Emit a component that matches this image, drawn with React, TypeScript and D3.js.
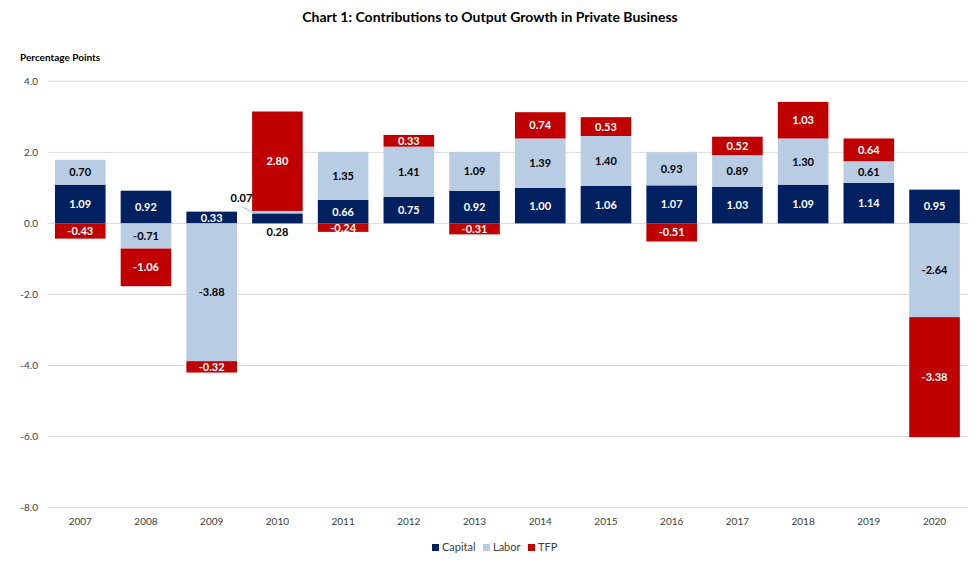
import React from "react";
import * as d3 from "d3";

const years = ["2007","2008","2009","2010","2011","2012","2013","2014","2015","2016","2017","2018","2019","2020"];
const capital = [1.09,0.92,0.33,0.28,0.66,0.75,0.92,1.00,1.06,1.07,1.03,1.09,1.14,0.95];
const labor = [0.70,-0.71,-3.88,0.07,1.35,1.41,1.09,1.39,1.40,0.93,0.89,1.30,0.61,-2.64];
const tfp = [-0.43,-1.06,-0.32,2.80,-0.24,0.33,-0.31,0.74,0.53,-0.51,0.52,1.03,0.64,-3.38];
const seriesNames = ["Capital","Labor","TFP"];
const yTicks = [4,2,0,-2,-4,-6,-8];

const colors = ["#002060","#B8CCE4","#C00000"];
const labelColors = ["#ffffff","#000000","#ffffff"];
const FONT = "Lato, 'Open Sans', sans-serif";

export default function App() {
  const W = 980, H = 565;
  const x = d3.scaleBand<string>().domain(years).range([47.4, 967.4]).paddingInner(0.23).paddingOuter(0.115);
  const y = d3.scaleLinear().domain([-8, 4]).range([507.5, 81.3]);
  const rows = years.map((yr, i) => ({ year: yr, Capital: capital[i], Labor: labor[i], TFP: tfp[i] }));
  const stack = d3.stack<any>().keys(seriesNames).offset(d3.stackOffsetDiverging);
  const layers = stack(rows);
  const bw = x.bandwidth();

  return (
    <svg width={W} height={H} style={{ position: "absolute", left: 0, top: 0, background: "#fff" }} fontFamily={FONT}>
      <text x={490} y={22} textAnchor="middle" fontSize={14} fontWeight="bold" fill="#000">
        Chart 1: Contributions to Output Growth in Private Business
      </text>
      <text x={20} y={61} fontSize={10} fontWeight="bold" fill="#000">Percentage Points</text>
      {yTicks.map(t => (
        <g key={t}>
          <line x1={47.4} x2={967.4} y1={y(t)} y2={y(t)} stroke="#d9d9d9" strokeWidth={1} />
          <text x={38} y={y(t) + 3.5} textAnchor="end" fontSize={10} fill="#404040">{t.toFixed(1)}</text>
        </g>
      ))}
      {years.map(yr => (
        <text key={yr} x={(x(yr) as number) + bw / 2} y={525} textAnchor="middle" fontSize={10} fill="#404040">{yr}</text>
      ))}
      {layers.map((layer, si) => (
        <g key={layer.key}>
          {layer.map((d, i) => {
            const yr = years[i];
            const y0 = y(Math.max(d[0], d[1]));
            const y1 = y(Math.min(d[0], d[1]));
            return <rect key={yr} x={x(yr)} y={y0} width={bw} height={Math.max(0, y1 - y0)} fill={colors[si]} />;
          })}
        </g>
      ))}
      {layers.map((layer, si) => (
        <g key={"l" + layer.key}>
          {layer.map((d, i) => {
            const yr = years[i];
            const cx = (x(yr) as number) + bw / 2;
            const v = (d.data as any)[layer.key] as number;
            let ly = y((d[0] + d[1]) / 2) + 4;
            let lx = cx;
            let fill = labelColors[si];
            let extra: any = null;
            if (yr === "2010" && layer.key === "Capital") {
              ly = y(0) + 13;
              fill = "#000";
            }
            if (yr === "2010" && layer.key === "Labor") {
              lx = cx - 36;
              ly = y(0.6);
              fill = "#000";
              extra = <line x1={cx - 35} y1={y(0.47)} x2={x(yr) as number} y2={y((d[0] + d[1]) / 2)} stroke="#a6a6a6" strokeWidth={0.8} />;
            }
            return (
              <g key={yr}>
                {extra}
                <text x={lx} y={ly} textAnchor="middle" fontSize={11} fontWeight="bold" fill={fill}>{v.toFixed(2)}</text>
              </g>
            );
          })}
        </g>
      ))}
      {seriesNames.map((s, i) => {
        const lx = [432, 483, 528][i];
        return (
          <g key={s}>
            <rect x={lx} y={544} width={7} height={7} fill={colors[i]} />
            <text x={lx + 10} y={551} fontSize={11} fill="#404040">{s}</text>
          </g>
        );
      })}
    </svg>
  );
}
